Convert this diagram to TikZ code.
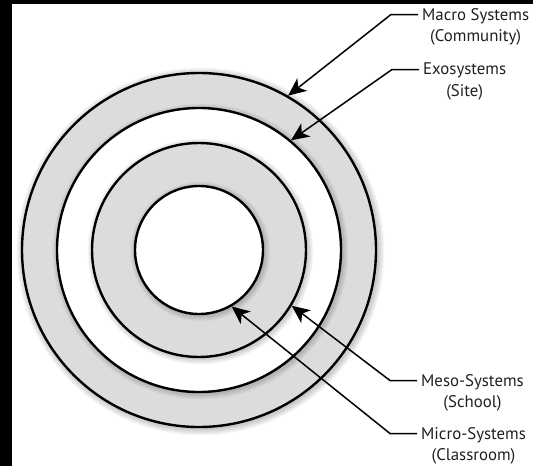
\documentclass[tikz,border=0pt]{standalone}
\usepackage{fontspec}
\setmainfont{PT Sans}
\usetikzlibrary{arrows.meta,calc}
\definecolor{ringgray}{RGB}{220,220,222}
\definecolor{txtgray}{RGB}{35,31,32}
\begin{document}
\begin{tikzpicture}[x=1pt,y=-1pt,
  ringnode/.style={circle, draw=black, line width=2.4pt, inner sep=0pt},
  conn/.style={line width=1.5pt, -{Stealth[length=18pt,width=16pt,inset=5pt]}},
  lbl/.style={align=center, inner sep=0pt, anchor=north west, text=txtgray, font=\fontsize{16.8}{21.5}\selectfont}]
\useasboundingbox (0,0) rectangle (533,466);
\fill[white] (0,0) rectangle (533,466);
\fill[black] (0,0) rectangle (12,466);
\fill[black] (0,0) rectangle (533,4);
\coordinate (c) at (199,250);
% circles with soft shadows
\foreach \k in {1,...,7}{\fill[black,opacity=0.03] ($(c)+(1.5pt,-1.5pt)$) circle ({177pt+\k pt});}
\node[ringnode, fill=ringgray, minimum size=354pt] (cMacro) at (c) {};
\foreach \k in {1,...,6}{\fill[black,opacity=0.03] ($(c)+(1.5pt,-1.5pt)$) circle ({142pt+\k pt});}
\node[ringnode, fill=white, minimum size=284pt] (cExo) at (c) {};
\foreach \k in {1,...,6}{\fill[black,opacity=0.03] ($(c)+(1.5pt,-1.5pt)$) circle ({107pt+\k pt});}
\node[ringnode, fill=ringgray, minimum size=214pt] (cMeso) at (c) {};
\foreach \k in {1,...,6}{\fill[black,opacity=0.03] ($(c)+(1.5pt,-1.5pt)$) circle ({64pt+\k pt});}
\node[ringnode, fill=white, minimum size=128pt] (cMicro) at (c) {};
% labels
\node[lbl] (lMacro) at (422,8) {Macro Systems\\(Community)};
\node[lbl] (lExo) at (423,63) {Exosystems\\(Site)};
\node[lbl] (lMeso) at (421,374) {Meso-Systems\\(School)};
\node[lbl] (lMicro) at (421,427) {Micro-Systems\\(Classroom)};
% connectors
\draw[conn] ([xshift=-4pt,yshift=-6.5pt]lMacro.north west) -- ++(-27,0) -- (cMacro.60.9);
\draw[conn] ([xshift=-4pt,yshift=-6.5pt]lExo.north west) -- ++(-27,0) -- (cExo.50);
\draw[conn] ([xshift=-4pt,yshift=-6.5pt]lMeso.north west) -- ++(-27,0) -- (cMeso.-31.6);
\draw[conn] ([xshift=-4pt,yshift=-6.5pt]lMicro.north west) -- ++(-27,0) -- (cMicro.-60.6);
\end{tikzpicture}
\end{document}
